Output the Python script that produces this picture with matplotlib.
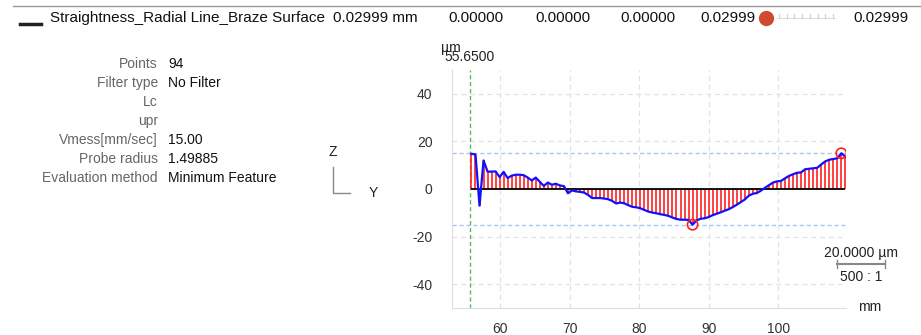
import numpy as np
import matplotlib
matplotlib.use("Agg")
from matplotlib import pyplot as plt
from matplotlib.lines import Line2D

plt.rcParams['font.family'] = ['Liberation Sans', 'DejaVu Sans']
plt.rcParams['axes.unicode_minus'] = False

# profile data (mm along the line, deviation in µm)
x_start = 55.9
x_step = 0.578
deviation = [
    14.8, 14.5, -7.0, 12.0, 7.3, 7.3, 7.4, 5.0, 7.2, 4.6,
    5.6, 6.0, 6.0, 5.8, 4.8, 3.6, 4.8, 3.0, 1.3, 2.7,
    1.8, 2.2, 1.5, 1.2, -1.8, -0.6, -1.0, -1.2, -1.5, -2.5,
    -3.8, -3.8, -3.8, -4.0, -4.3, -5.0, -6.1, -5.7, -6.0, -6.8,
    -7.5, -7.7, -8.1, -8.8, -9.5, -9.9, -10.2, -10.6, -10.9, -11.3,
    -12.0, -12.6, -12.9, -12.9, -13.0, -14.99, -13.2, -12.5, -12.3, -11.8,
    -11.0, -10.4, -9.8, -9.1, -8.5, -7.6, -6.6, -5.5, -4.4, -2.8,
    -2.0, -1.7, -0.7, 0.5, 1.6, 2.7, 3.2, 3.4, 4.5, 5.5,
    6.2, 6.8, 7.0, 8.3, 8.5, 8.7, 8.9, 10.3, 11.6, 12.3,
    12.6, 12.9, 15.0, 13.6,
]
start_pos = 55.65

header_name = "Straightness_Radial Line_Braze Surface"
header_values = ["0.02999 mm", "0.00000", "0.00000", "0.00000", "0.02999"]
header_last = "0.02999"

info_labels = ["Points", "Filter type", "Lc", "upr", "Vmess[mm/sec]",
               "Probe radius", "Evaluation method"]
info_values = ["94", "No Filter", "", "", "15.00", "1.49885", "Minimum Feature"]

xticks = [60, 70, 80, 90, 100]
yticks = [-40, -20, 0, 20, 40]

W, H = 921, 335
fig = plt.figure(figsize=(W / 100, H / 100), dpi=100)


def fx(px):
    return px / W


def fy(py):
    return 1 - py / H


# header row
fig.add_artist(Line2D([fx(13), 1], [fy(6), fy(6)], color='#999999', lw=1))
fig.add_artist(Line2D([fx(20), fx(41)], [fy(24), fy(24)], color='#222222', lw=2.5))
fig.text(fx(50), fy(18), header_name, fontsize=11, va='center', color='#111111')
value_x = [333, 448, 535, 620, 700]
for vx, txt in zip(value_x, header_values):
    fig.text(fx(vx), fy(18), txt, fontsize=11, va='center', color='#111111')
fig.add_artist(Line2D([fx(766)], [fy(18)], marker='o', markersize=11,
                      markerfacecolor='#d04a30', markeredgecolor='none', ls='none'))
fig.add_artist(Line2D([fx(777), fx(835)], [fy(17.5), fy(17.5)], color='#dddddd', lw=0.8))
for tx in np.linspace(779, 833, 8):
    fig.add_artist(Line2D([fx(tx), fx(tx)], [fy(13.5), fy(17.5)], color='#d0d0d0', lw=0.8))
fig.text(fx(853), fy(18), header_last, fontsize=11, va='center', color='#111111')

# info block
for k, (lab, val) in enumerate(zip(info_labels, info_values)):
    y = fy(64 + k * 19)
    fig.text(fx(158), y, lab, fontsize=10, ha='right', va='center', color='#666666')
    fig.text(fx(168), y, val, fontsize=10, ha='left', va='center', color='#111111')

# coordinate system icon
fig.add_artist(Line2D([fx(333), fx(333), fx(350)], [fy(167), fy(193), fy(193)],
                      color='#888888', lw=1))
fig.text(fx(333), fy(152), "Z", fontsize=10, ha='center', va='center', color='#222222')
fig.text(fx(373), fy(193), "Y", fontsize=10, ha='center', va='center', color='#222222')

# profile plot
ax = fig.add_axes([fx(452), fy(308), (846 - 452) / W, (308 - 70) / H])
x = x_start + x_step * np.arange(len(deviation))
dev = np.array(deviation)
ax.set_xlim(53.1, 109.75)
ax.set_ylim(-50, 50)
ax.set_xticks(xticks)
ax.set_yticks(yticks)
ax.tick_params(length=0, labelsize=10, labelcolor='#333333')
ax.tick_params(axis='y', pad=14)
ax.tick_params(axis='x', pad=10)
for s in ['top', 'right']:
    ax.spines[s].set_visible(False)
for s in ['left', 'bottom']:
    ax.spines[s].set_color('#dddddd')
for t in xticks:
    ax.axvline(t, color='#e2e2e2', lw=0.9, ls=(0, (4, 3)), zorder=0)
for t in yticks:
    if t != 0:
        ax.axhline(t, color='#e2e2e2', lw=0.9, ls=(0, (4, 3)), zorder=0)

peak = dev.max()
valley = dev.min()
ax.hlines([peak, valley], 53.1, x[-1], color='#a9c6f5', lw=1, ls=(0, (3, 2)), zorder=1)
ax.axvline(start_pos, color='#5cb85c', lw=1, ls=(0, (3, 2)), zorder=1)
ax.vlines(x, 0, dev, color='#ff2020', lw=1.2, zorder=2)
ax.hlines(0, x[0], x[-1], color='black', lw=1.3, zorder=3)
ax.plot(x, dev, color='#1010ff', lw=1.6, zorder=4)
ax.scatter([x[dev.argmax()], x[dev.argmin()]], [peak, valley], s=55,
           facecolors='none', edgecolors='#ff2020', lw=1.2, zorder=5)

# labels around the plot
fig.text(fx(470), fy(57), f"{start_pos:.4f}", fontsize=10, ha='center', va='center',
         color='#222222')
fig.text(fx(451), fy(48), "µm", fontsize=10, ha='center', va='center', color='#222222')
fig.text(fx(870), fy(307), "mm", fontsize=10, ha='center', va='center', color='#222222')

# scale bar: 20 µm in data units
p0 = ax.transData.transform((0, 0))
p1 = ax.transData.transform((0, 20))
bar_len = (p1[1] - p0[1]) / fig.dpi * 100
bx0, by = 837, 264
fig.add_artist(Line2D([fx(bx0), fx(bx0 + bar_len)], [fy(by), fy(by)], color='#888888', lw=1.5))
for ex in [bx0, bx0 + bar_len]:
    fig.add_artist(Line2D([fx(ex), fx(ex)], [fy(by - 4), fy(by + 4)], color='#888888', lw=1))
fig.text(fx(bx0 + bar_len / 2), fy(253), "20.0000 µm", fontsize=10, ha='center',
         va='center', color='#222222')
fig.text(fx(bx0 + bar_len / 2), fy(277), "500 : 1", fontsize=10, ha='center',
         va='center', color='#222222')

fig.savefig("out.png", dpi=100)
